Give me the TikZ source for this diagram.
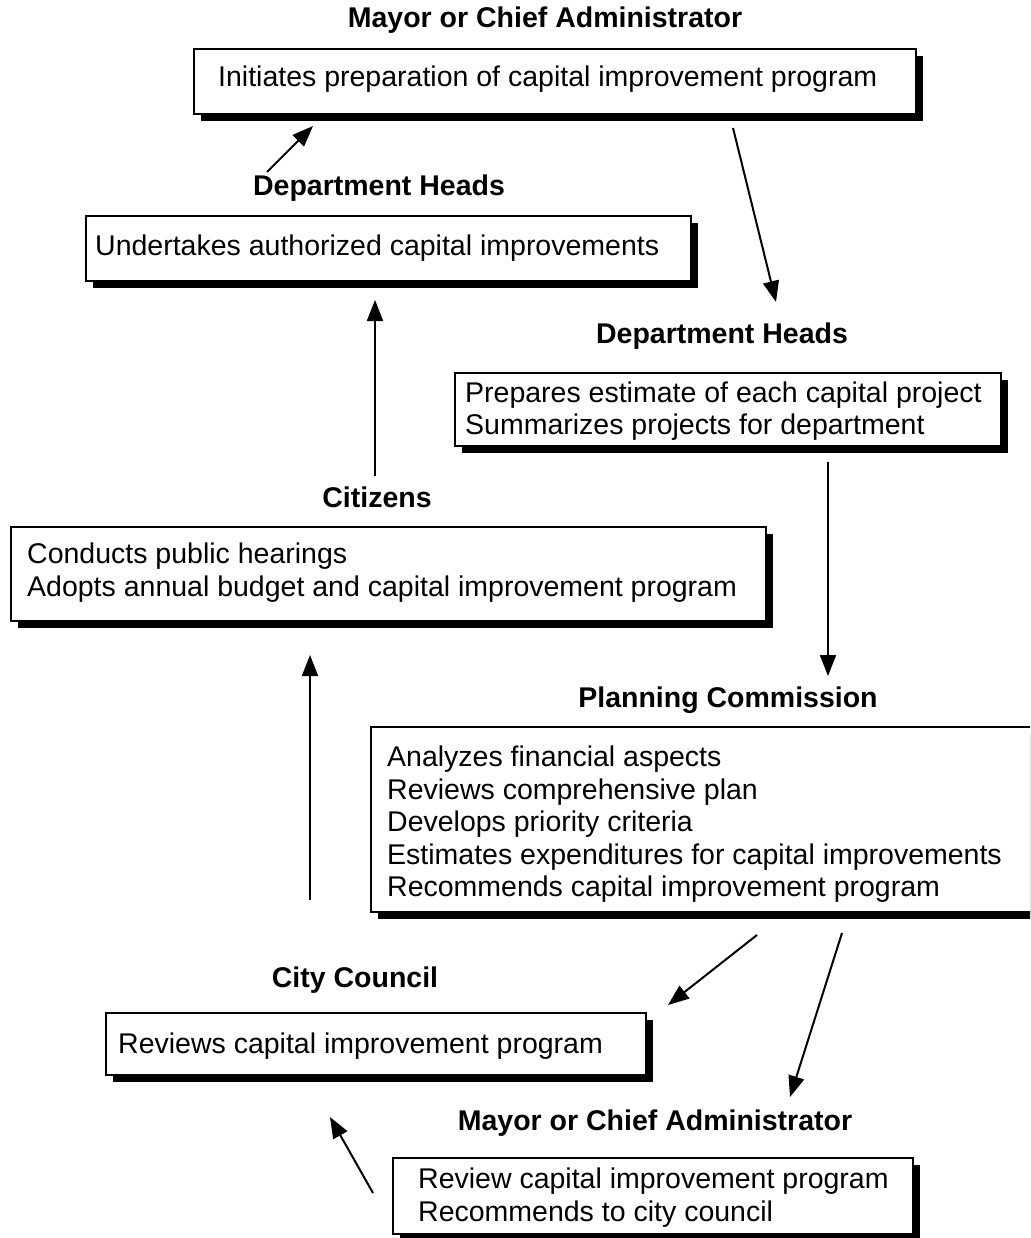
\documentclass[tikz,border=0pt]{standalone}
\usepackage{fontspec}
\setmainfont{Liberation Sans}
\usetikzlibrary{shadows,arrows.meta}
\begin{document}
\begin{tikzpicture}[x=1pt,y=-1pt,
  title/.style={font=\fontsize{28.5}{33}\selectfont\bfseries, inner sep=0pt},
  box/.style={draw=black, line width=1.6pt, fill=white, anchor=north west, inner sep=0pt,
    drop shadow={shadow xshift=7pt, shadow yshift=-7pt, fill=black, opacity=1}},
  txt/.style={font=\fontsize{28.5}{32.5}\selectfont, align=left, anchor=west, inner sep=0pt},
  flow/.style={line width=2pt, -{Triangle[length=21pt,width=16pt]}}]
\clip (0,0) rectangle (1030,1238);
\fill[white] (0,0) rectangle (1030,1238);

% titles
\node[title] (t1) at (545,20) {Mayor or Chief Administrator};
\node[title] (t2) at (379,188) {Department Heads};
\node[title] (t3) at (722,336) {Department Heads};
\node[title] (t4) at (377,497) {Citizens};
\node[title] (t5) at (728,700) {Planning Commission};
\node[title] (t6) at (355,980) {City Council};
\node[title] (t7) at (655,1123) {Mayor or Chief Administrator};

% boxes
\node[box, minimum width=722pt, minimum height=65pt] (b1) at (193,48) {};
\node[box, minimum width=605pt, minimum height=65pt] (b2) at (85,215) {};
\node[box, minimum width=546pt, minimum height=73pt] (b3) at (454,372) {};
\node[box, minimum width=755pt, minimum height=94pt] (b4) at (10,526) {};
\node[box, minimum width=700pt, minimum height=185pt] (b5) at (370,726) {};
\node[box, minimum width=540pt, minimum height=62pt] (b6) at (105,1012) {};
\node[box, minimum width=520pt, minimum height=76pt] (b7) at (392,1157) {};

% box texts
\node[txt] (b1t) at ([xshift=25pt,yshift=2pt]b1.west)
  {Initiates preparation of capital improvement program};
\node[txt] (b2t) at ([xshift=10pt]b2.west)
  {Undertakes authorized capital improvements};
\node[txt] (b3t) at ([xshift=11pt,yshift=-2pt]b3.west)
  {Prepares estimate of each capital project\\Summarizes projects for department};
\node[txt] (b4t) at ([xshift=17pt,yshift=1pt]b4.west)
  {Conducts public hearings\\Adopts annual budget and capital improvement program};
\node[txt] (b5t) at ([xshift=17pt,yshift=-5pt]b5.west)
  {Analyzes financial aspects\\Reviews comprehensive plan\\Develops priority criteria\\Estimates expenditures for capital improvements\\Recommends capital improvement program};
\node[txt] (b6t) at ([xshift=13pt,yshift=-2pt]b6.west)
  {Reviews capital improvement program};
\node[txt] (b7t) at ([xshift=26pt,yshift=-2pt]b7.west)
  {Review capital improvement program\\Recommends to city council};

% arrow end points
\coordinate (a1s) at (267,172); \coordinate (a1e) at (313,126);
\coordinate (a2s) at (733,128); \coordinate (a2e) at (776,302);
\coordinate (a3s) at (828,462); \coordinate (a3e) at (828,676);
\coordinate (a4s) at (375,476); \coordinate (a4e) at (375,300);
\coordinate (a5s) at (310,900); \coordinate (a5e) at (310,655);
\coordinate (a6s) at (757,935); \coordinate (a6e) at (668,1005);
\coordinate (a7s) at (842,933); \coordinate (a7e) at (790,1097);
\coordinate (a8s) at (373,1193); \coordinate (a8e) at (330,1117);

\draw[flow] (a1s) -- (a1e);
\draw[flow] (a2s) -- (a2e);
\draw[flow] (a3s) -- (a3e);
\draw[flow] (a4s) -- (a4e);
\draw[flow] (a5s) -- (a5e);
\draw[flow] (a6s) -- (a6e);
\draw[flow] (a7s) -- (a7e);
\draw[flow] (a8s) -- (a8e);
\end{tikzpicture}
\end{document}
